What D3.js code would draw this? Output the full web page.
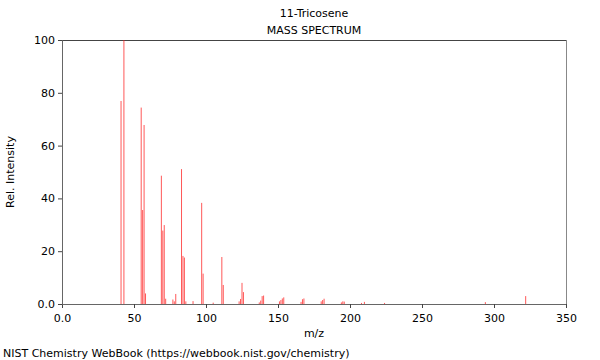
<!DOCTYPE html>
<html>
<head>
<meta charset="utf-8">
<script src="https://cdn.jsdelivr.net/npm/d3@7"></script>
<style>
  body { margin: 0; background: #fff; }
  svg text { font-family: "DejaVu Sans", sans-serif; fill: #000; }
</style>
</head>
<body>
<div id="chart"></div>
<script>
// peaks (m/z, relative intensity)
var mz = [41, 43, 55, 56, 57, 58, 69, 70, 71, 72, 77, 78, 79, 83, 84, 85, 86, 91,
          97, 98, 105, 111, 112, 123, 124, 125, 126, 137, 138, 139, 140, 151, 152, 153, 154,
          166, 167, 168, 180, 181, 182, 194, 195, 196, 208, 210, 224, 294, 322];
var intensity = [76.9, 100, 74.4, 35.6, 67.8, 4.0, 48.6, 27.8, 29.9, 2, 1.7, 1, 3.8, 51.1, 18.2, 17.6, 1, 1.1,
          38.3, 11.5, 0.5, 17.8, 7.2, 1, 1.9, 8.0, 4.5, 0.6, 1.3, 3.0, 3.2, 1, 1.5, 2.1, 2.5,
          0.8, 1.8, 2.1, 1, 1.5, 2, 0.6, 1, 0.9, 0.4, 0.8, 0.4, 0.7, 3.0];

var xTicks = [0, 50, 100, 150, 200, 250, 300, 350];
var yTicks = [0, 20, 40, 60, 80, 100];

var width = 600, height = 360;
var margin = {top: 40, right: 34, bottom: 56, left: 62};

var svg = d3.select("#chart").append("svg")
    .attr("width", width)
    .attr("height", height);

var x = d3.scaleLinear().domain([0, 350]).range([margin.left, width - margin.right]);
var y = d3.scaleLinear().domain([0, 100]).range([height - margin.bottom, margin.top]);

// frame: top and right
svg.append("line")
    .attr("x1", x(0)).attr("x2", x(350))
    .attr("y1", y(100) + 0.5).attr("y2", y(100) + 0.5)
    .style("stroke", "#444");
svg.append("line")
    .attr("x1", x(350) + 0.5).attr("x2", x(350) + 0.5)
    .attr("y1", y(100)).attr("y2", y(0))
    .style("stroke", "#888");

// peaks
svg.append("g").selectAll("line")
    .data(mz)
    .enter()
    .append("line")
    .attr("x1", function (d) { return x(d); })
    .attr("x2", function (d) { return x(d); })
    .attr("y1", y(0))
    .attr("y2", function (d, i) { return y(intensity[i]); })
    .style("stroke", "#ff2020")
    .style("stroke-opacity", 0.75)
    .style("stroke-width", 1);

// minor ticks
var xAxisMinor = d3.axisBottom(x).tickValues(d3.range(0, 351, 10)).tickSize(2).tickFormat("");
var yAxisMinor = d3.axisLeft(y).tickValues(d3.range(0, 101, 5)).tickSize(2).tickFormat("");

var xAxis = d3.axisBottom(x).tickValues(xTicks).tickSize(4).tickPadding(6)
    .tickFormat(function (d) { return d === 0 ? "0.0" : d; });
var yAxis = d3.axisLeft(y).tickValues(yTicks).tickSize(4).tickPadding(3)
    .tickFormat(function (d) { return d === 0 ? "0.0" : d; });

var gx = svg.append("g").attr("transform", "translate(0," + y(0) + ")");
gx.call(xAxisMinor);
gx.call(xAxis);
var gy = svg.append("g").attr("transform", "translate(" + x(0) + ",0)");
gy.call(yAxisMinor);
gy.call(yAxis);

svg.selectAll(".domain").style("stroke", "#666");
svg.selectAll(".tick line").style("stroke", "#444");
svg.selectAll(".tick text")
    .style("font-family", "DejaVu Sans, sans-serif")
    .style("font-size", "11px")
    .style("fill", "#000");

// titles
svg.append("text")
    .attr("x", 314).attr("y", 17)
    .attr("text-anchor", "middle")
    .style("font-size", "11px")
    .text("11-Tricosene");
svg.append("text")
    .attr("x", 314).attr("y", 34)
    .attr("text-anchor", "middle")
    .style("font-size", "11px")
    .text("MASS SPECTRUM");

svg.append("text")
    .attr("x", 314).attr("y", 337)
    .attr("text-anchor", "middle")
    .style("font-size", "11px")
    .text("m/z");

svg.append("text")
    .attr("transform", "translate(14," + ((y(0) + y(100)) / 2) + ") rotate(-90)")
    .attr("text-anchor", "middle")
    .style("font-size", "11px")
    .text("Rel. Intensity");

svg.append("text")
    .attr("x", 3).attr("y", 357)
    .style("font-size", "11px")
    .text("NIST Chemistry WebBook (https://webbook.nist.gov/chemistry)");
</script>
</body>
</html>
